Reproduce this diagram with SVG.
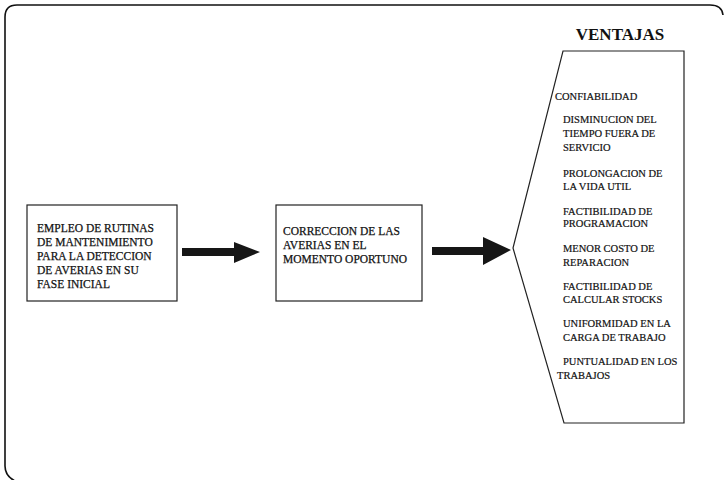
<svg xmlns="http://www.w3.org/2000/svg" width="724" height="480" viewBox="0 0 724 480">
  <style>
    .frame { fill: none; stroke: #111; stroke-width: 1.6; }
    .box { fill: #fff; stroke: #222; stroke-width: 1.2; }
    .arrow { fill: #161616; stroke: none; }
    .btxt { font-family: "Liberation Serif", "Times New Roman", serif; font-size: 11.5px; fill: #111; stroke: #111; stroke-width: 0.25; }
    .ltxt { font-family: "Liberation Serif", "Times New Roman", serif; font-size: 10.5px; fill: #111; stroke: #111; stroke-width: 0.2; }
    .title { font-family: "Liberation Serif", "Times New Roman", serif; font-size: 17px; font-weight: bold; fill: #111; }
  </style>

  <!-- page frame: rounded corner top-left, top edge and left edge -->
  <path class="frame" d="M 723,15 Q 722,5 710,5 L 17,5 Q 5,5 5,17 L 5,466 Q 5,476 15,481"/>

  <g id="rutinas">
    <rect class="box" x="27" y="205" width="150" height="96"/>
    <text class="btxt" x="37" y="232">EMPLEO DE RUTINAS</text>
    <text class="btxt" x="37" y="246">DE MANTENIMIENTO</text>
    <text class="btxt" x="37" y="260">PARA LA DETECCION</text>
    <text class="btxt" x="37" y="274">DE AVERIAS EN SU</text>
    <text class="btxt" x="37" y="288">FASE INICIAL</text>
  </g>

  <g id="correccion">
    <rect class="box" x="276" y="205" width="146" height="96"/>
    <text class="btxt" x="283" y="235">CORRECCION DE LAS</text>
    <text class="btxt" x="283" y="249">AVERIAS EN EL</text>
    <text class="btxt" x="283" y="263">MOMENTO OPORTUNO</text>
  </g>

  <g id="ventajas">
    <text class="title" x="620" y="40" text-anchor="middle">VENTAJAS</text>
    <polygon class="box" points="563,51 684,51 684,423 564,423 513,248"/>
    <text class="ltxt" x="555" y="100">CONFIABILIDAD</text>
    <text class="ltxt" x="563" y="123">DISMINUCION DEL</text>
    <text class="ltxt" x="563" y="137">TIEMPO FUERA DE</text>
    <text class="ltxt" x="563" y="151">SERVICIO</text>
    <text class="ltxt" x="563" y="177">PROLONGACION DE</text>
    <text class="ltxt" x="563" y="190">LA VIDA UTIL</text>
    <text class="ltxt" x="563" y="215">FACTIBILIDAD DE</text>
    <text class="ltxt" x="563" y="227">PROGRAMACION</text>
    <text class="ltxt" x="563" y="252">MENOR COSTO DE</text>
    <text class="ltxt" x="563" y="266">REPARACION</text>
    <text class="ltxt" x="563" y="290">FACTIBILIDAD DE</text>
    <text class="ltxt" x="563" y="303">CALCULAR STOCKS</text>
    <text class="ltxt" x="563" y="327">UNIFORMIDAD EN LA</text>
    <text class="ltxt" x="563" y="341">CARGA DE TRABAJO</text>
    <text class="ltxt" x="563" y="365">PUNTUALIDAD EN LOS</text>
    <text class="ltxt" x="557" y="379">TRABAJOS</text>
  </g>

  <g id="connectors">
    <polygon class="arrow" points="182,248 234,248 234,242 260,252 234,263 234,256 182,256"/>
    <polygon class="arrow" points="432,247 483,247 483,237 511,250 483,265 483,255 432,255"/>
  </g>
</svg>
